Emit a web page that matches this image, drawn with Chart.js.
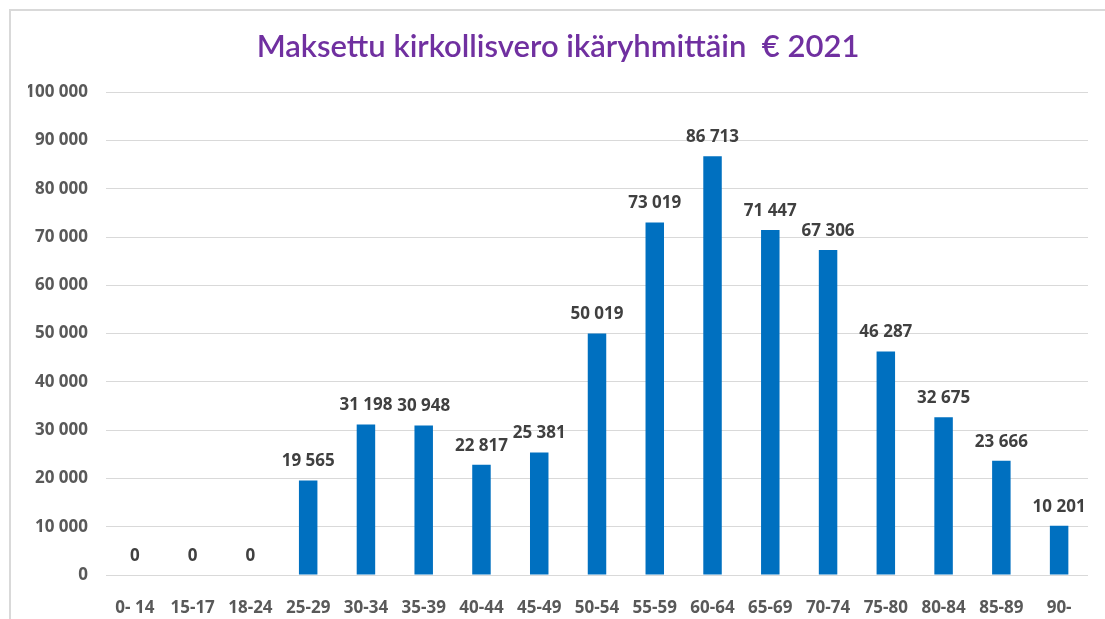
<!DOCTYPE html>
<html>
<head>
<meta charset="utf-8">
<script src="https://cdn.jsdelivr.net/npm/chart.js@4/dist/chart.umd.min.js"></script>
<style>
  html, body { margin: 0; padding: 0; background: #ffffff; }
  #wrap { position: relative; width: 1105px; height: 619px; overflow: hidden; }
  #frame { position: absolute; left: 9px; top: 9px; width: 1120px; height: 640px;
           border-left: 2px solid #d9d9d9; border-top: 2px solid #d9d9d9; }
  canvas { position: absolute; left: 0; top: 0; }
</style>
</head>
<body>
<div id="wrap">
  <div id="frame"></div>
  <canvas id="c" width="1105" height="619"></canvas>
</div>
<script>
const chartTitle = 'Maksettu kirkollisvero ikäryhmittäin  € 2021';
const categories = ['0- 14','15-17','18-24','25-29','30-34','35-39','40-44','45-49','50-54','55-59','60-64','65-69','70-74','75-80','80-84','85-89','90-'];
const values = [0, 0, 0, 19565, 31198, 30948, 22817, 25381, 50019, 73019, 86713, 71447, 67306, 46287, 32675, 23666, 10201];
const yMin = 0;
const yMax = 100000;
const yStep = 10000;

function fmt(v) {
  return String(v).replace(/\B(?=(\d{3})+(?!\d))/g, ' ');
}

const dataLabels = {
  id: 'dataLabels',
  afterDatasetsDraw(chart) {
    const ctx = chart.ctx;
    ctx.save();
    ctx.font = 'bold 17px "Open Sans"';
    ctx.fillStyle = '#404040';
    ctx.textAlign = 'center';
    ctx.textBaseline = 'middle';
    const meta = chart.getDatasetMeta(0);
    meta.data.forEach((el, i) => {
      ctx.fillText(fmt(values[i]), el.x, el.y - 19);
    });
    ctx.restore();
  }
};

new Chart(document.getElementById('c'), {
  type: 'bar',
  data: {
    labels: categories,
    datasets: [{
      data: values,
      backgroundColor: '#0070C0',
      borderWidth: 0,
      categoryPercentage: 1.0,
      barPercentage: 0.32
    }]
  },
  options: {
    responsive: false,
    animation: false,
    layout: { padding: { left: 28, right: 17, top: 0, bottom: 4 } },
    plugins: {
      legend: { display: false },
      tooltip: { enabled: false },
      title: {
        display: true,
        text: chartTitle,
        color: '#7030A0',
        font: { family: 'Lato', size: 31, weight: 600, lineHeight: 1.2 },
        padding: { top: 28, bottom: 27 }
      }
    },
    scales: {
      x: {
        afterFit(scale) { scale.height = 40; },
        grid: { display: false, drawTicks: false },
        border: { display: false },
        ticks: {
          color: '#595959',
          font: { family: 'Open Sans', size: 17, weight: 'bold', lineHeight: 1.2 },
          padding: 23,
          maxRotation: 0,
          autoSkip: false
        }
      },
      y: {
        min: yMin,
        max: yMax,
        afterFit(scale) { scale.width = 78; },
        grid: { color: '#d9d9d9', lineWidth: 1, drawTicks: false },
        border: { display: false },
        ticks: {
          stepSize: yStep,
          color: '#595959',
          font: { family: 'Open Sans', size: 17, weight: 'bold' },
          padding: 18,
          callback: (v) => fmt(v)
        }
      }
    }
  },
  plugins: [dataLabels]
});
</script>
</body>
</html>
